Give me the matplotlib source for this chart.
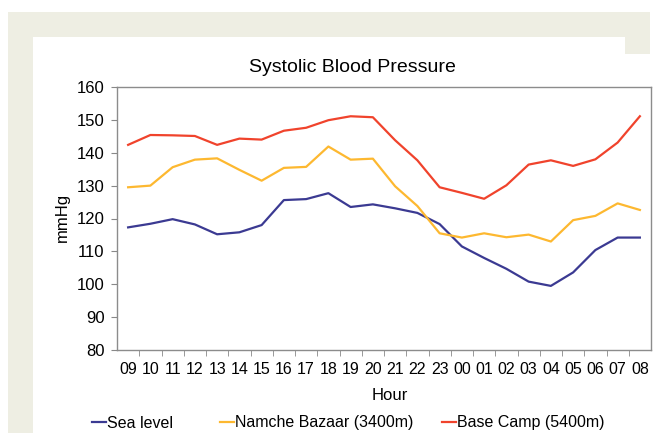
import matplotlib.pyplot as plt
from matplotlib.patches import Rectangle

plt.rcParams["font.family"] = ["Liberation Sans", "DejaVu Sans"]

hours = ["09", "10", "11", "12", "13", "14", "15", "16", "17", "18", "19", "20",
         "21", "22", "23", "00", "01", "02", "03", "04", "05", "06", "07", "08"]

sea_level = [117.3, 118.4, 119.8, 118.2, 115.2, 115.8, 118.0, 125.6, 125.9, 127.7, 123.5, 124.3,
             123.1, 121.7, 118.3, 111.5, 108.0, 104.7, 100.8, 99.5, 103.6, 110.4, 114.2, 114.2]
namche = [129.5, 130.0, 135.6, 137.9, 138.3, 134.8, 131.5, 135.4, 135.7, 141.9, 137.9, 138.2,
          129.8, 123.8, 115.5, 114.2, 115.5, 114.3, 115.1, 113.0, 119.5, 120.8, 124.6, 122.6]
base_camp = [142.4, 145.4, 145.3, 145.1, 142.4, 144.3, 144.0, 146.7, 147.6, 149.9, 151.1, 150.8,
             143.8, 137.7, 129.5, 127.8, 126.0, 130.1, 136.4, 137.7, 136.0, 138.0, 143.1, 151.1]

series = [
    ("Sea level", sea_level, "#3b3a92"),
    ("Namche Bazaar (3400m)", namche, "#fdb830"),
    ("Base Camp (5400m)", base_camp, "#f0432c"),
]

W, H = 654, 433
fig = plt.figure(figsize=(W / 100, H / 100), dpi=100)
fig.patch.set_facecolor("white")

# beige page background behind the white chart panel
beige = "#eeeee3"
for x0, y0, w, h in [(8, 12, 642, 25), (8, 12, 25, 421), (625, 12, 25, 42)]:
    fig.patches.append(Rectangle((x0 / W, 1 - (y0 + h) / H), w / W, h / H,
                                 transform=fig.transFigure, facecolor=beige,
                                 edgecolor="none", zorder=0))

ax = fig.add_axes([117 / W, 1 - 350 / H, (651 - 117) / W, (350 - 87) / H])
x = list(range(len(hours)))
handles = []
for name, vals, color in series:
    (ln,) = ax.plot(x, vals, color=color, lw=1.6, label=name)
    handles.append(ln)

ax.set_xlim(-0.5, len(hours) - 0.5)
ax.set_ylim(80, 160)
ax.set_yticks(range(80, 161, 10))
ax.set_xticks(x)
ax.set_xticklabels(hours)
ax.set_xticks([i + 0.5 for i in x[:-1]], minor=True)
ax.tick_params(axis="x", which="major", length=0, pad=9, labelsize=11.5)
ax.tick_params(axis="x", which="minor", length=4, color="#888888", direction="out")
ax.tick_params(axis="y", length=4, color="#888888", direction="out", pad=5, labelsize=12)
for sp in ax.spines.values():
    sp.set_color("#8c8c8c")
    sp.set_linewidth(1.0)

fig.text(352 / W, 1 - 68 / H, "Systolic Blood Pressure", ha="center", va="center", fontsize=14)
fig.text(62 / W, 1 - 217 / H, "mmHg", ha="center", va="center", rotation=90, fontsize=12)
fig.text(390 / W, 1 - 395 / H, "Hour", ha="center", va="center", fontsize=12)

# legend entries placed individually like the original
leg_x = [92, 220, 442]
for h, lx in zip(handles, leg_x):
    leg = fig.legend([h], [h.get_label()], loc="center left",
                     bbox_to_anchor=(lx / W, 1 - 423 / H), frameon=False,
                     handlelength=0.85, handletextpad=0.1, fontsize=11.5,
                     borderpad=0, borderaxespad=0)

fig.savefig("out.png", dpi=100)
